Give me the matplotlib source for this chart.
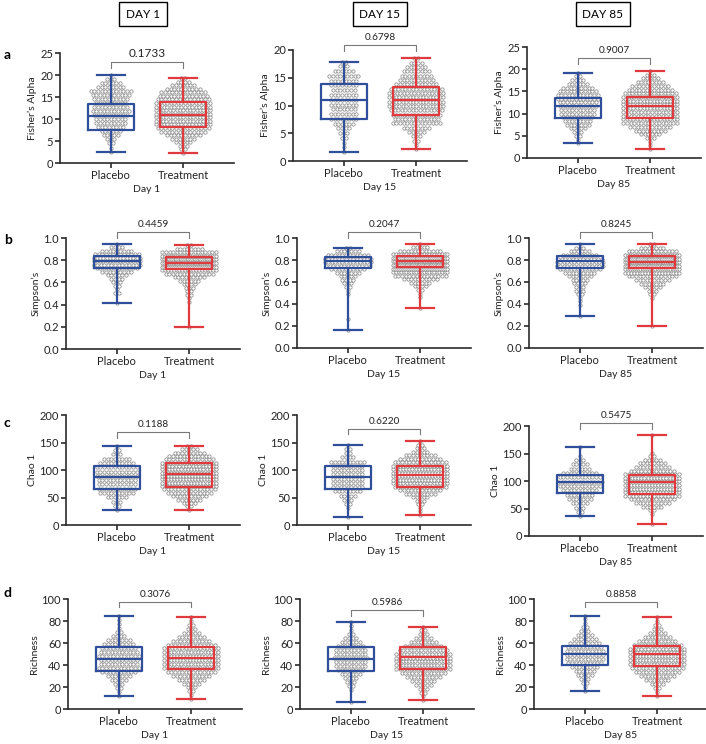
import numpy as np
import matplotlib
matplotlib.use("Agg")
import matplotlib.pyplot as plt
import matplotlib.transforms as mtransforms

plt.rcParams['font.family'] = ['Lato', 'DejaVu Sans']

# ---- data ----
days = ["Day 1", "Day 15", "Day 85"]
groups = ["Placebo", "Treatment"]
row_tags = ["a", "b", "c", "d"]
ylabels = ["Fisher\u2019s Alpha", "Simpson\u2019s", "Chao 1", "Richness"]

# box stats per day: [min, q1, median, q3, max]
fisher_placebo_box = [[2.6, 7.4, 10.6, 13.3, 20.1], [1.6, 7.5, 11.0, 13.8, 17.9], [3.3, 9.0, 11.7, 13.6, 19.2]]
fisher_treat_box = [[2.3, 8.1, 10.8, 13.8, 19.3], [2.1, 8.2, 11.0, 13.4, 18.5], [2.0, 8.9, 11.7, 13.8, 19.6]]
simpson_placebo_box = [[0.41, 0.73, 0.79, 0.834, 0.95], [0.167, 0.727, 0.79, 0.827, 0.91], [0.295, 0.73, 0.79, 0.837, 0.943]]
simpson_treat_box = [[0.20, 0.72, 0.774, 0.83, 0.934], [0.364, 0.74, 0.79, 0.84, 0.95], [0.196, 0.723, 0.783, 0.834, 0.943]]
chao_placebo_box = [[27, 65, 87, 108, 144], [15, 66, 88, 108, 146], [36, 79, 99, 111, 162]]
chao_treat_box = [[28, 70, 93, 112, 144], [19, 70, 91, 107, 152], [21, 76, 98, 111, 184]]
rich_placebo_box = [[11.5, 34.1, 45.3, 56.2, 85], [6.0, 34.1, 45.6, 56.8, 79], [16, 40.2, 49.8, 57.7, 85]]
rich_treat_box = [[9.0, 36.6, 46.8, 56.8, 83.4], [7.9, 36.3, 47.7, 56.2, 75], [11.5, 38.7, 49.8, 57.7, 84]]

# dot counts per row, bottom (min) to top (max), estimated from the swarms
fisher_placebo_counts = [
    [1, 1, 2, 3, 5, 6, 8, 9, 9, 10, 11, 10, 9, 10, 11, 12, 8, 6, 3, 1],
    [1, 1, 1, 2, 3, 4, 6, 8, 8, 7, 8, 8, 8, 7, 8, 8, 9, 6, 3, 2],
    [1, 1, 2, 3, 5, 7, 8, 9, 10, 10, 11, 11, 12, 12, 11, 9, 6, 4, 2, 1],
]
fisher_treat_counts = [
    [1, 2, 3, 5, 7, 10, 13, 15, 16, 17, 17, 17, 17, 16, 16, 15, 14, 13, 10, 7, 4, 2],
    [1, 1, 2, 3, 5, 8, 14, 13, 14, 15, 17, 17, 17, 16, 15, 12, 10, 9, 8, 6, 4, 2],
    [1, 1, 1, 3, 6, 9, 12, 16, 17, 16, 16, 17, 17, 17, 16, 15, 13, 11, 8, 5, 3, 1],
]
simpson_placebo_counts = [
    [1, 0, 0, 2, 1, 2, 3, 4, 6, 9, 12, 14, 15, 15, 13, 9, 4, 1],
    [1, 0, 0, 1, 0, 0, 0, 0, 0, 0, 1, 1, 2, 3, 4, 5, 7, 10, 13, 14, 14, 12, 7, 2],
    [1, 0, 0, 1, 1, 1, 2, 3, 3, 4, 5, 7, 9, 12, 14, 14, 13, 10, 6, 3, 1],
]
simpson_treat_counts = [
    [1, 0, 0, 0, 0, 0, 0, 1, 1, 2, 2, 3, 4, 6, 9, 14, 20, 28, 32, 32, 26, 16, 8, 2],
    [1, 0, 0, 1, 1, 2, 4, 6, 10, 15, 22, 28, 32, 34, 30, 22, 12, 5, 1],
    [1, 0, 0, 0, 0, 0, 0, 0, 1, 2, 3, 5, 7, 10, 14, 20, 26, 30, 32, 30, 24, 14, 7, 2],
]
chao_placebo_counts = [
    [1, 2, 3, 6, 10, 11, 11, 11, 12, 12, 12, 10, 8, 3, 2, 1],
    [1, 0, 1, 2, 3, 5, 8, 9, 9, 9, 9, 9, 9, 10, 4, 2, 2, 1],
    [1, 2, 3, 5, 7, 8, 10, 12, 13, 12, 10, 6, 5, 3, 1, 0, 1],
]
chao_treat_counts = [
    [1, 2, 4, 7, 10, 13, 15, 17, 18, 19, 19, 19, 18, 17, 16, 14, 12, 9, 5, 2],
    [1, 1, 1, 2, 3, 5, 9, 12, 15, 17, 18, 19, 19, 18, 17, 15, 12, 9, 5, 3, 2, 1],
    [1, 0, 0, 1, 2, 6, 10, 13, 16, 18, 19, 19, 19, 18, 16, 13, 10, 8, 5, 2, 1, 0, 0, 0, 0, 1],
]
rich_placebo_counts = [
    [1, 1, 2, 3, 5, 7, 10, 12, 11, 11, 12, 11, 10, 9, 7, 4, 2, 1, 1, 1, 1],
    [1, 0, 0, 1, 2, 3, 4, 6, 8, 9, 9, 10, 9, 9, 8, 6, 4, 2, 1, 1, 1],
    [1, 1, 2, 3, 5, 6, 8, 10, 11, 11, 11, 10, 9, 7, 5, 3, 2, 1, 1, 1],
]
rich_treat_counts = [
    [1, 1, 2, 3, 5, 8, 11, 14, 16, 17, 18, 18, 17, 16, 14, 11, 8, 5, 3, 2, 1, 1],
    [1, 1, 2, 3, 5, 7, 10, 13, 16, 18, 18, 17, 16, 14, 11, 8, 5, 3, 2, 1],
    [1, 1, 2, 4, 7, 10, 13, 15, 17, 18, 18, 17, 16, 14, 11, 8, 5, 3, 2, 1, 1],
]

p_values = [
    ["0.1733", "0.6798", "0.9007"],
    ["0.4459", "0.2047", "0.8245"],
    ["0.1188", "0.6220", "0.5475"],
    ["0.3076", "0.5986", "0.8858"],
]

y_limits = [[25, 20, 25], [1.0, 1.0, 1.0], [200, 200, 200], [100, 100, 100]]
y_steps = [5, 0.2, 50, 20]

placebo_box = [fisher_placebo_box, simpson_placebo_box, chao_placebo_box, rich_placebo_box]
treat_box = [fisher_treat_box, simpson_treat_box, chao_treat_box, rich_treat_box]
placebo_counts = [fisher_placebo_counts, simpson_placebo_counts, chao_placebo_counts, rich_placebo_counts]
treat_counts = [fisher_treat_counts, simpson_treat_counts, chao_treat_counts, rich_treat_counts]

# ---- layout (pixels, from top-left) ----
W, H = 706, 744
AX_W = 174
# (left, top, bottom) for each panel
panel_px = [
    [(60, 53, 163), (293, 50, 161), (527, 47, 158)],
    [(66, 238, 349), (297, 238, 348), (529, 238, 348)],
    [(66, 415, 525), (297, 415, 525), (529, 426, 536)],
    [(68, 599, 709), (300, 599, 709), (534, 599, 709)],
]
# height of the p-value bracket in axes fraction
bracket_h = [
    [0.918, 1.045, 0.90],
    [1.054, 1.054, 1.054],
    [0.845, 0.873, 1.027],
    [0.973, 0.90, 0.973],
]

BLUE = "#2f4f9a"
RED = "#e03a3e"
DOT = "#8a8a8a"
AXC = "#2b2b2b"
DX = 0.05  # dot spacing in x data units


def swarm(x0, lo, hi, counts, maxw):
    ys = np.linspace(lo, hi, len(counts))
    xs_out, ys_out = [], []
    for y, n in zip(ys, counts):
        if n == 0:
            continue
        step = min(DX, maxw / max(n - 1, 1))
        offs = (np.arange(n) - (n - 1) / 2) * step
        xs_out.extend(x0 + offs)
        ys_out.extend([y] * n)
    return xs_out, ys_out


def box_stats(vals):
    return {"whislo": vals[0], "q1": vals[1], "med": vals[2], "q3": vals[3],
            "whishi": vals[4], "fliers": []}


fig = plt.figure(figsize=(W / 100, H / 100), dpi=100)

for r in range(4):
    for c in range(3):
        left, top, bottom = panel_px[r][c]
        ax = fig.add_axes([left / W, 1 - bottom / H, AX_W / W, (bottom - top) / H])

        # dots
        for pos, boxes, counts, maxw in [(1, placebo_box[r][c], placebo_counts[r][c], 0.64),
                                         (2, treat_box[r][c], treat_counts[r][c], 0.74)]:
            xs, ys = swarm(pos, boxes[0], boxes[4], counts, maxw)
            ax.plot(xs, ys, "o", ms=2.4, mfc="white", mec=DOT, mew=0.55, zorder=2)

        # boxes
        for pos, boxes, col in [(1, placebo_box[r][c], BLUE), (2, treat_box[r][c], RED)]:
            ax.bxp([box_stats(boxes)], positions=[pos], widths=0.64, capwidths=0.38,
                   showfliers=False,
                   boxprops=dict(color=col, lw=1.6),
                   whiskerprops=dict(color=col, lw=1.6),
                   capprops=dict(color=col, lw=1.6),
                   medianprops=dict(color=col, lw=1.6),
                   manage_ticks=False, zorder=3)

        ax.set_xlim(0.3, 2.7)
        ax.set_ylim(0, y_limits[r][c])
        ax.set_yticks(np.arange(0, y_limits[r][c] + y_steps[r] / 2, y_steps[r]))
        if r == 1:
            ax.set_yticklabels([f"{v:.1f}" for v in ax.get_yticks()])
        ax.set_xticks([1, 2])
        ax.set_xticklabels(groups)
        for s in ["top", "right"]:
            ax.spines[s].set_visible(False)
        for s in ["left", "bottom"]:
            ax.spines[s].set_color(AXC)
            ax.spines[s].set_linewidth(1.2)
        ax.tick_params(axis="both", colors=AXC, width=1.2, length=3.5, labelsize=8,
                       labelcolor="#222222", pad=1.5)
        ax.set_ylabel(ylabels[r], fontsize=7.5, color="#222222", labelpad=2)
        ax.set_xlabel(days[c], fontsize=7.5, color="#222222", labelpad=3)

        # p-value bracket
        trans = mtransforms.blended_transform_factory(ax.transData, ax.transAxes)
        bh = bracket_h[r][c]
        ax.plot([1, 1, 2, 2], [bh - 0.05, bh, bh, bh - 0.05], color="#7a7a7a", lw=0.8,
                transform=trans, clip_on=False)
        fs = 8.5 if (r == 0 and c == 0) else 7.2
        ax.text(1.5, bh + 0.03, p_values[r][c], transform=trans, ha="center", va="bottom",
                fontsize=fs, color="#222222")

# column headers
for c, (cx, lbl) in enumerate(zip([143, 380, 603], ["DAY 1", "DAY 15", "DAY 85"])):
    fig.text(cx / W, 1 - 14 / H, lbl, ha="center", va="center", fontsize=8.5,
             bbox=dict(boxstyle="square,pad=0.55", fc="white", ec="black", lw=1.0))

# row tags
for tag, ty in zip(row_tags, [55, 240, 423, 593]):
    fig.text(4 / W, 1 - ty / H, tag, ha="left", va="center", fontsize=10, fontweight="bold")

fig.savefig("out.png", dpi=100)
